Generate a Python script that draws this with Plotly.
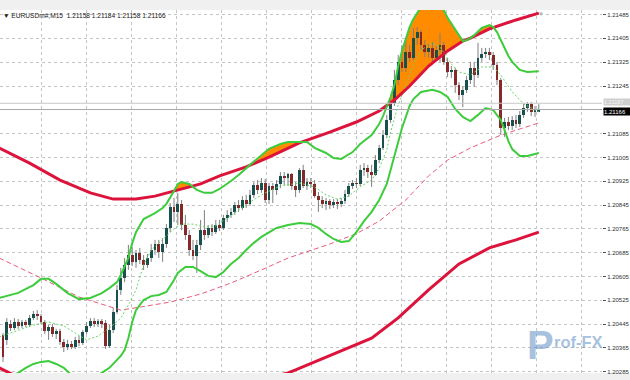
import numpy as np
import plotly.graph_objects as go

# ---------------- data (prices expressed in pips above 1.20000) ----------------
BASE = 1.20000
PIP = 0.0001
SYMBOL = "EURUSDm#,M15"

open_pips = [40.8, 39.2, 44.5, 43.2, 45.2, 43.9, 45.2, 44.2, 46.5, 47.9,
             47.2, 45.2, 42.2, 43.5, 41.2, 42.2, 38.5, 36.8, 37.8, 36.8,
             39.2, 38.2, 41.8, 43.9, 45.5, 44.5, 45.5, 44.9, 37.1, 42.5,
             48.6, 56.0, 60.0, 64.4, 67.7, 65.4, 68.4, 66.0, 64.4, 66.7,
             69.4, 71.4, 68.7, 71.4, 76.8, 83.8, 82.2, 84.9, 77.8, 74.4,
             69.4, 67.4, 71.1, 76.1, 74.4, 76.8, 75.4, 77.8, 76.8, 80.2,
             81.2, 82.2, 84.5, 83.5, 86.2, 84.9, 87.9, 91.2, 89.6, 91.9,
             86.2, 90.9, 89.6, 91.6, 94.3, 93.6, 94.9, 90.9, 89.6, 96.3,
             90.9, 92.2, 91.6, 87.5, 86.2, 84.9, 85.9, 84.5, 85.5, 84.9,
             85.9, 88.2, 90.9, 91.9, 91.6, 96.3, 96.9, 95.6, 94.6, 99.6,
             103.7, 108.0, 113.1, 118.8, 126.5, 132.6, 130.6, 135.9, 133.9, 140.6,
             142.6, 138.3, 135.9, 137.3, 133.9, 136.6, 138.3, 132.6, 129.2, 129.9,
             124.8, 121.5, 123.2, 126.5, 130.6, 128.2, 133.9, 135.3, 135.9, 134.9,
             131.6, 126.5, 110.4, 112.4, 111.1, 113.1, 111.7, 114.8, 117.1, 118.5,
             115.8, 115.8]
high_pips = [41.5, 46.5, 45.9, 46.5, 46.2, 45.9, 45.9, 47.6, 48.9, 49.2,
             47.9, 45.9, 44.2, 44.5, 42.9, 42.9, 39.5, 39.2, 38.8, 40.2,
             40.5, 42.5, 45.2, 46.5, 46.5, 46.2, 46.2, 45.9, 44.2, 49.9,
             57.6, 63.4, 66.7, 71.1, 70.4, 69.4, 70.1, 67.7, 68.1, 71.4,
             72.8, 72.8, 73.4, 78.1, 85.2, 86.9, 88.6, 86.2, 81.2, 76.1,
             72.8, 72.8, 79.5, 82.8, 77.8, 78.1, 79.5, 79.5, 81.2, 82.8,
             83.5, 85.5, 86.2, 87.5, 87.9, 89.6, 92.2, 92.9, 93.6, 93.3,
             91.9, 91.9, 92.9, 95.6, 95.6, 95.3, 95.3, 92.2, 96.9, 98.0,
             93.6, 93.6, 92.9, 88.9, 87.5, 86.9, 86.5, 86.5, 86.5, 86.9,
             89.6, 91.9, 92.9, 93.6, 98.0, 98.6, 98.0, 98.0, 101.3, 104.7,
             109.7, 114.8, 120.5, 129.9, 134.9, 138.3, 140.0, 138.3, 144.0, 144.3,
             143.3, 140.0, 138.6, 139.3, 137.9, 142.3, 139.3, 133.9, 131.2, 130.6,
             125.8, 124.5, 127.9, 132.6, 132.6, 139.0, 137.3, 137.3, 137.3, 135.9,
             132.6, 127.2, 113.8, 114.1, 114.4, 114.8, 116.1, 118.5, 119.1, 119.1,
             117.8, 118.4]
low_pips = [31.8, 37.5, 42.2, 42.5, 42.9, 43.2, 43.5, 43.5, 45.9, 45.9,
            44.5, 41.2, 39.2, 40.2, 39.5, 37.5, 35.1, 35.8, 36.1, 36.1,
            37.1, 37.5, 41.2, 43.2, 43.5, 43.5, 43.2, 36.1, 36.5, 41.5,
            47.9, 54.3, 58.6, 62.7, 64.0, 63.4, 64.7, 62.7, 63.4, 65.4,
            67.7, 66.7, 65.4, 70.1, 75.4, 78.8, 77.8, 76.1, 72.8, 67.4,
            66.0, 61.7, 69.4, 72.8, 73.4, 74.1, 74.8, 75.8, 76.1, 78.8,
            80.2, 81.2, 82.2, 82.8, 83.5, 84.2, 86.9, 88.2, 88.6, 85.2,
            84.9, 85.2, 87.9, 90.2, 91.2, 90.9, 89.6, 87.2, 88.6, 90.2,
            89.6, 90.2, 86.9, 82.2, 83.5, 82.8, 83.2, 83.5, 83.2, 83.8,
            84.9, 87.2, 89.9, 90.2, 90.9, 94.3, 93.6, 90.6, 94.3, 98.6,
            103.0, 107.0, 112.1, 117.8, 124.8, 129.2, 129.2, 132.6, 133.2, 138.3,
            136.6, 134.2, 133.9, 132.2, 133.2, 132.6, 131.6, 127.5, 127.2, 122.2,
            119.8, 117.4, 122.2, 125.2, 124.2, 127.2, 132.6, 133.9, 133.2, 129.9,
            124.8, 108.0, 107.4, 109.7, 109.7, 110.4, 110.7, 113.8, 115.8, 114.4,
            114.1, 115.8]
close_pips = [33.4, 45.2, 43.2, 45.2, 43.9, 45.2, 44.2, 46.5, 47.9, 47.2,
              45.2, 42.2, 43.5, 41.2, 42.2, 38.5, 36.8, 37.8, 36.8, 39.2,
              38.2, 41.8, 43.9, 45.5, 44.5, 45.5, 44.5, 37.1, 42.5, 48.6,
              56.0, 60.0, 64.4, 67.7, 65.4, 68.4, 66.0, 64.4, 66.7, 69.4,
              71.4, 68.7, 71.4, 76.8, 83.8, 82.2, 84.9, 77.8, 74.4, 69.4,
              67.4, 71.1, 76.1, 74.4, 76.8, 75.4, 77.8, 76.8, 80.2, 81.2,
              82.2, 84.5, 83.5, 86.2, 84.9, 87.9, 91.2, 89.6, 91.9, 86.2,
              90.9, 89.6, 91.6, 94.3, 93.6, 94.9, 90.9, 89.6, 96.3, 90.9,
              92.2, 91.6, 87.5, 86.2, 84.9, 85.9, 84.5, 85.5, 84.9, 85.9,
              88.2, 90.9, 91.9, 91.6, 96.3, 96.9, 95.6, 94.6, 99.6, 103.7,
              108.0, 113.1, 118.8, 126.5, 132.6, 130.6, 135.9, 133.9, 140.6, 142.6,
              138.3, 135.9, 137.3, 133.9, 136.6, 138.3, 132.6, 129.2, 129.9, 124.8,
              121.5, 123.2, 126.5, 130.6, 128.2, 133.9, 135.3, 135.9, 134.9, 131.6,
              126.5, 110.4, 112.4, 111.1, 113.1, 111.7, 114.8, 117.1, 118.5, 115.8,
              116.4, 116.6]

# Long-period band (thick red upper / lower, dashed middle)
red_upper_idx = [-1, 7, 15, 23, 29, 35, 40, 47, 52, 57, 64, 70, 78, 86, 93, 99,
                 103, 107, 112, 117, 121, 123, 128, 135, 141]
red_upper_pips = [103.7, 98.6, 92.9, 88.6, 86.5, 86.5, 87.5, 89.9, 91.6, 94.3, 97.3,
                  100.6, 105.4, 109.0, 112.4, 116.1, 119.8, 124.5, 131.2, 136.3,
                  139.6, 140.6, 143.7, 146.7, 149.0]
red_mid_idx = [-1, 10, 20, 31, 36, 44, 52, 60, 68, 75, 86, 93, 99, 106, 112, 117,
               123, 131, 141]
red_mid_pips = [66.7, 60.0, 53.6, 49.2, 50.2, 51.9, 54.6, 58.3, 62.7, 66.7, 71.4,
                74.9, 79.1, 86.2, 94.3, 99.6, 103.7, 108.0, 112.1]
red_lower_idx = [-1, 10, 20, 31, 44, 52, 60, 68, 75, 77, 86, 97, 104, 112, 120,
                 128, 135, 141]
red_lower_pips = [29.8, 23.0, 16.6, 12.2, 14.9, 17.6, 21.3, 25.7, 28.1, 29.1, 33.8,
                  39.8, 46.6, 56.0, 64.7, 70.1, 72.8, 75.4]

# Short-period band (green upper / lower, dotted middle)
green_upper_idx = [-1, 4, 8, 10, 12, 14, 17, 20, 23, 26, 28, 30, 31, 33, 34, 35, 37,
                   40, 42, 43, 45, 46, 47, 49, 51, 53, 55, 57, 60, 62, 65, 68, 70,
                   73, 75, 78, 80, 82, 85, 87, 89, 92, 94, 97, 99, 100, 102, 103,
                   104, 105, 106, 107, 108, 110, 113, 116, 117, 119, 121, 122, 123,
                   124, 126, 128, 129, 130, 131, 133, 134, 136, 138, 141]
green_upper_pips = [53.3, 55.0, 57.6, 59.7, 59.7, 58.0, 54.9, 52.9, 53.3, 54.9, 56.6,
                    58.6, 61.0, 66.7, 71.7, 75.4, 79.8, 81.8, 83.5, 84.9, 89.2, 91.6,
                    92.2, 91.6, 89.6, 88.6, 88.6, 89.9, 92.6, 94.6, 98.0, 101.3, 103.4,
                    105.0, 105.7, 105.7, 105.7, 103.7, 102.0, 100.3, 100.0, 102.3,
                    105.0, 108.0, 111.7, 114.4, 120.8, 124.8, 131.2, 136.3, 140.6,
                    144.3, 147.0, 151.0, 152.4, 150.0, 147.4, 143.7, 139.6, 139.9,
                    140.6, 141.6, 144.0, 145.0, 144.3, 142.6, 140.0, 134.6, 132.6,
                    129.9, 129.2, 129.5]
green_lower_idx = [-1, 2, 4, 6, 8, 10, 12, 14, 16, 18, 20, 22, 24, 26, 28, 29, 30,
                   31, 32, 33, 34, 35, 37, 39, 41, 43, 45, 46, 48, 50, 52, 54, 56,
                   58, 60, 62, 64, 66, 68, 70, 72, 75, 78, 81, 83, 85, 87, 89, 91,
                   93, 95, 97, 99, 101, 102, 103, 104, 105, 106, 107, 108, 110, 113,
                   115, 117, 119, 121, 123, 125, 127, 129, 131, 132, 133, 134, 136,
                   138, 141]
green_lower_pips = [26.4, 27.1, 28.1, 29.8, 31.1, 31.8, 32.1, 31.1, 29.8, 27.4, 25.7,
                    25.4, 26.7, 28.1, 29.8, 31.1, 32.4, 33.8, 35.8, 39.8, 45.2, 49.2,
                    52.6, 53.9, 54.3, 55.3, 59.3, 61.7, 63.7, 63.7, 62.3, 60.7, 60.3,
                    62.0, 64.7, 66.7, 69.4, 71.8, 73.8, 75.4, 76.8, 77.8, 78.5, 78.1,
                    76.8, 74.8, 73.1, 72.1, 72.4, 75.4, 79.1, 82.2, 86.2, 91.6, 96.3,
                    101.3, 106.4, 110.4, 114.1, 117.8, 120.1, 122.5, 123.2, 122.5,
                    120.8, 116.8, 114.1, 112.7, 114.8, 117.1, 116.4, 113.1, 109.7,
                    106.0, 103.3, 101.0, 101.0, 102.0]
green_mid_idx = [-1, 4, 8, 12, 16, 19, 22, 25, 28, 31, 33, 35, 37, 39, 42, 45, 47,
                 50, 53, 56, 59, 62, 65, 69, 73, 78, 82, 85, 88, 91, 94, 97, 99,
                 101, 102, 104, 106, 108, 110, 113, 115, 118, 120, 123, 126, 129,
                 131, 134, 137, 141]
green_mid_pips = [40.2, 42.5, 44.2, 45.2, 43.9, 41.5, 39.2, 40.5, 43.2, 46.5, 50.9,
                  56.0, 64.4, 69.4, 73.1, 76.5, 78.1, 78.1, 77.1, 77.5, 80.2, 82.8,
                  85.5, 88.6, 90.9, 91.9, 90.6, 87.9, 86.5, 87.5, 90.6, 92.9, 96.9,
                  103.0, 109.0, 118.1, 124.5, 131.9, 136.6, 139.0, 137.6, 131.9,
                  129.2, 128.2, 130.9, 130.9, 128.2, 122.5, 118.5, 115.8]

ASK_PRICE = 1.21187
Y_TICKS = [1.20285 + 0.0008 * k for k in range(16)]


def px(p):
    return BASE + np.array(p, dtype=float) * PIP


o, h, l, c = px(open_pips), px(high_pips), px(low_pips), px(close_pips)
n = len(c)
idx = np.arange(n)
bid = c[-1]

# ---------------- figure ----------------
W, H = 630, 380
ML, MR, MT, MB = 0, 28, 10, 7
BAR_PX, X0_PX = 3.8, 3.0
x_range = [(0 - X0_PX) / BAR_PX, (W - MR - ML - X0_PX) / BAR_PX]
y_range = [1.202807, 1.215004]

fig = go.Figure()

# orange fill between short band upper line and long band upper line
xf = np.arange(-1, n - 1 + 0.001, 0.05)
gu = np.interp(xf, green_upper_idx, px(green_upper_pips))
ru = np.interp(xf, red_upper_idx, px(red_upper_pips))
fig.add_trace(go.Scatter(x=xf, y=ru, mode="lines", line=dict(width=0),
                         hoverinfo="skip", showlegend=False, zorder=-2))
fig.add_trace(go.Scatter(x=xf, y=np.maximum(gu, ru), mode="lines", line=dict(width=0),
                         fill="tonexty", fillcolor="#ff8c00",
                         hoverinfo="skip", showlegend=False, zorder=-2))

# wicks
wx, wy = [], []
for i in range(n):
    wx += [i, i, None]
    wy += [l[i], h[i], None]
fig.add_trace(go.Scatter(x=wx, y=wy, mode="lines", line=dict(color="#7e7e7e", width=1),
                         hoverinfo="skip", showlegend=False, zorder=0))

# bodies
body_lo = np.minimum(o, c)
body_h = np.maximum(np.abs(c - o), 0.3 * PIP)
colors = ["#17504c" if c[i] >= o[i] else "#842828" for i in range(n)]
fig.add_trace(go.Bar(x=idx, y=body_h, base=body_lo, width=0.72,
                     marker=dict(color=colors, line=dict(width=0)),
                     hoverinfo="skip", showlegend=False, zorder=1))

# long band
fig.add_trace(go.Scatter(x=red_mid_idx, y=px(red_mid_pips), mode="lines",
                         line=dict(color="#ea5b7c", width=1, dash="5px,3px"),
                         showlegend=False, zorder=2))
fig.add_trace(go.Scatter(x=red_upper_idx, y=px(red_upper_pips), mode="lines",
                         line=dict(color="#dc143c", width=3),
                         showlegend=False, zorder=3))
fig.add_trace(go.Scatter(x=red_lower_idx, y=px(red_lower_pips), mode="lines",
                         line=dict(color="#dc143c", width=3),
                         showlegend=False, zorder=3))
# short band
fig.add_trace(go.Scatter(x=green_mid_idx, y=px(green_mid_pips), mode="lines",
                         line=dict(color="#6ad46a", width=1, dash="2px,2px"),
                         showlegend=False, zorder=2))
for gx, gy in [(green_upper_idx, green_upper_pips), (green_lower_idx, green_lower_pips)]:
    fig.add_trace(go.Scatter(x=gx, y=px(gy), mode="lines",
                             line=dict(color="#3ccc3c", width=2),
                             showlegend=False, zorder=3))

# vertical grid positions
grid_x = [(41.7 + 45.0 * k - X0_PX) / BAR_PX for k in range(13)]

# tick text: the level hidden behind the bid label is left blank
tick_text = []
for v in Y_TICKS:
    tick_text.append("" if abs(v - bid) < 0.00012 else f"{v:.5f}")

fig.update_layout(
    width=W, height=H,
    margin=dict(l=ML, r=MR, t=MT, b=MB, pad=0),
    paper_bgcolor="white", plot_bgcolor="white",
    showlegend=False, bargap=0, barmode="overlay",
    font=dict(family="Liberation Sans, Arial, sans-serif", size=6, color="#303030"),
    xaxis=dict(range=x_range, showticklabels=False, ticks="",
               tickvals=grid_x, showgrid=True, gridcolor="#c4c4c4", griddash="dot",
               gridwidth=1, zeroline=False, showline=True, linecolor="#6a6a6a",
               linewidth=1, mirror=True, fixedrange=True),
    yaxis=dict(range=y_range, side="right", tickvals=Y_TICKS,
               ticktext=tick_text, ticks="outside", ticklen=3,
               tickcolor="#505050", tickfont=dict(size=6, color="#303030"),
               showgrid=True, gridcolor="#c4c4c4", griddash="dot", gridwidth=1,
               zeroline=False, showline=True, linecolor="#505050", linewidth=1,
               fixedrange=True),
)

pw = W - ML - MR
ph = H - MT - MB
shapes = [
    dict(type="rect", xref="paper", yref="paper", x0=0, x1=W / pw, y0=1, y1=1 + MT / ph,
         fillcolor="#f0f0f0", line=dict(width=0), layer="below"),
    dict(type="rect", xref="paper", yref="paper", x0=0, x1=W / pw, y0=-MB / ph, y1=0,
         fillcolor="#f0f0f0", line=dict(width=0), layer="below"),
    dict(type="line", xref="paper", yref="y", x0=0, x1=1, y0=ASK_PRICE, y1=ASK_PRICE,
         line=dict(color="#c8c8c8", width=1), layer="above"),
    dict(type="line", xref="paper", yref="y", x0=0, x1=1, y0=bid, y1=bid,
         line=dict(color="#a8a8a8", width=1), layer="above"),
]
fig.update_layout(shapes=shapes)

ann = [
    dict(xref="paper", yref="paper", x=0, y=1 - 5.5 / ph, xanchor="left", yanchor="middle",
         showarrow=False, xshift=1,
         text=f"▼ {SYMBOL}  {o[-1]:.5f} {h[-1]:.5f} {l[-1]:.5f} {c[-1]:.5f}",
         font=dict(size=6.6, color="#202020")),
    dict(xref="paper", yref="y", x=1, y=ASK_PRICE, xanchor="left", yanchor="bottom",
         showarrow=False, text=f"{ASK_PRICE:.5f}", bgcolor="#cfcfcf",
         font=dict(size=5.5, color="#f4f4f4"), width=26, height=6, align="left",
         borderpad=0, xshift=1, yshift=-3),
    dict(xref="paper", yref="y", x=1, y=bid, xanchor="left", yanchor="top",
         showarrow=False, text=f"{bid:.5f}", bgcolor="#000000",
         font=dict(size=6, color="white"), width=26, height=7, align="left",
         borderpad=0, xshift=1, yshift=3),
    dict(xref="paper", yref="paper", x=(541 - ML) / pw, y=1, xanchor="center",
         yanchor="top", showarrow=False, text="▼", yshift=1,
         font=dict(size=6, color="#b0b0b0")),
    # watermark (kept inside the plot area, clear of the price labels)
    dict(xref="paper", yref="paper", x=525 / pw, y=1 - (321 - MT) / ph, xanchor="left",
         yanchor="top", showarrow=False, text="<b>P</b>",
         font=dict(family="Liberation Sans, Arial", size=40, color="rgba(90,140,195,0.55)")),
    dict(xref="paper", yref="paper", x=552 / pw, y=1 - (353 - MT) / ph, xanchor="left",
         yanchor="bottom", showarrow=False, text="<b>rof-FX</b>",
         font=dict(family="Liberation Sans, Arial", size=16.5,
                   color="rgba(90,140,195,0.55)")),
]
fig.update_layout(annotations=ann)

fig.write_html("out.html")
